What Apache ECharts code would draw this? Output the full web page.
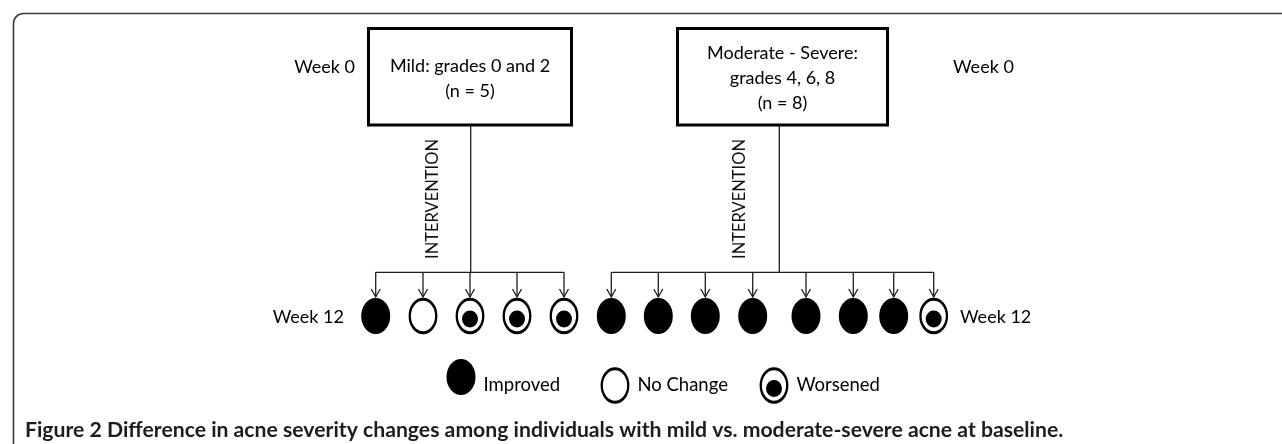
<!DOCTYPE html>
<html><head><meta charset="utf-8">
<script src="https://cdn.jsdelivr.net/npm/echarts@6/dist/echarts.min.js"></script>
<style>html,body{margin:0;padding:0;background:#fff}#c{width:1282px;height:444px}</style>
</head><body><div id="c"></div>
<script>
// ---------- DATA ----------
const groupTitles = ['Mild: grades 0 and 2\n(n = 5)', 'Moderate - Severe:\ngrades 4, 6, 8\n(n = 8)'];
const mildOutcomes = ['Improved', 'No Change', 'Worsened', 'Worsened', 'Worsened'];
const severeOutcomes = ['Improved', 'Improved', 'Improved', 'Improved', 'Improved', 'Improved', 'Improved', 'Worsened'];
const outcomeTypes = ['Improved', 'No Change', 'Worsened'];
const timeLabels = ['Week 0', 'Week 12'];
const stepLabel = 'INTERVENTION';
const caption = 'Figure 2 Difference in acne severity changes among individuals with mild vs. moderate-severe acne at baseline.';

// ---------- LAYOUT (diagram units = canvas px via hidden axes) ----------
const mildX = [375.7, 423, 470, 517, 564];
const severeX = [611.3, 658.3, 705.3, 752.7, 806, 853.3, 893.7, 933.7];
const groupLayout = [
  { box: [368.5, 571.5, 28.5, 125], stem: 470.7, textX: 470, textY: [66, 91], interX: 433, childX: mildX },
  { box: [677.5, 887.5, 28.5, 125], stem: 779.3, textX: 782.5, textY: [53.3, 78.3, 103.3], interX: 740, childX: severeX }
];
const barY = 272.3, tipY = 297, nodeY = 316, interY = 199;
const legendPos = [[461, 377], [615, 385.5], [774, 385.5]];
const legendTextY = 385;

const FONT = 'Lato, "Open Sans", sans-serif';
const INK = '#000';
const LINE = '#1e1e1e';

const outcomeStyle = {
  'Improved': { color: '#000', borderWidth: 0, size: [29, 36] },
  'No Change': { color: '#fff', borderColor: '#000', borderWidth: 2.6, size: [26.5, 33.5] },
  'Worsened': { color: '#fff', borderColor: '#000', borderWidth: 2.6, size: [26.5, 33.5] }
};

function nodeItem(x, y, o) {
  const s = outcomeStyle[o];
  return {
    value: [x, y, outcomeTypes.indexOf(o)],
    symbolSize: s.size,
    itemStyle: { color: s.color, borderColor: s.borderColor || '#000', borderWidth: s.borderWidth, opacity: 1 }
  };
}

const nodes = [];
const inner = [];
mildOutcomes.forEach((o, i) => { nodes.push(nodeItem(mildX[i], nodeY, o)); if (o === 'Worsened') inner.push([mildX[i], nodeY + 3]); });
severeOutcomes.forEach((o, i) => { nodes.push(nodeItem(severeX[i], nodeY, o)); if (o === 'Worsened') inner.push([severeX[i], nodeY + 3]); });

const legendNodes = outcomeTypes.map((o, i) => {
  const it = nodeItem(legendPos[i][0], legendPos[i][1], o);
  it.label = { show: true, position: 'right', distance: 8, formatter: o, offset: [0, legendTextY - legendPos[i][1]],
    color: INK, fontFamily: FONT, fontSize: 18.5 };
  return it;
});
const legendInner = outcomeTypes.map((o, i) => o === 'Worsened' ? [legendPos[i][0], legendPos[i][1] + 3] : null).filter(Boolean);

function txt(api, x, y, text, align, opts) {
  const p = api.coord([x, y]);
  return Object.assign({
    type: 'text', x: p[0], y: p[1],
    style: { text: text, fill: INK, font: '18px ' + FONT, textAlign: align, align: align,
      textVerticalAlign: 'middle', verticalAlign: 'middle' }
  }, opts || {});
}

function renderGroup(params, api) {
  const g = api.value(0);
  const L = groupLayout[g];
  const ch = [];
  const a = api.coord([L.box[0], L.box[2]]), b = api.coord([L.box[1], L.box[3]]);
  const s0 = api.coord([L.stem, L.box[3]]), s1 = api.coord([L.stem, barY]);
  ch.push({ type: 'line', shape: { x1: s0[0], y1: s0[1], x2: s1[0], y2: s1[1] }, style: { stroke: LINE, lineWidth: 1.3 } });
  const xs = L.childX;
  const h0 = api.coord([Math.min.apply(null, xs), barY]), h1 = api.coord([Math.max.apply(null, xs), barY]);
  ch.push({ type: 'line', shape: { x1: h0[0], y1: h0[1], x2: h1[0], y2: h1[1] }, style: { stroke: LINE, lineWidth: 1.3 } });
  xs.forEach(x => {
    const t0 = api.coord([x, barY]), t1 = api.coord([x, tipY]);
    ch.push({ type: 'line', shape: { x1: t0[0], y1: t0[1], x2: t1[0], y2: t1[1] }, style: { stroke: LINE, lineWidth: 1.3 } });
    ch.push({ type: 'polyline', shape: { points: [[t1[0] - 4.5, t1[1] - 8], [t1[0], t1[1]], [t1[0] + 4.5, t1[1] - 8]] },
      style: { stroke: LINE, lineWidth: 1.3, fill: null } });
  });
  ch.push({ type: 'rect', shape: { x: a[0], y: a[1], width: b[0] - a[0], height: b[1] - a[1] },
    style: { fill: '#fff', stroke: '#000', lineWidth: 3 } });
  const lines = groupTitles[g].split('\n');
  lines.forEach((t, k) => ch.push(txt(api, L.textX, L.textY[k], t, 'center')));
  const ip = txt(api, L.interX, interY, stepLabel, 'center', { rotation: Math.PI / 2 });
  ip.style.font = '16.5px ' + FONT;
  ip.style.fill = '#111';
  ch.push(ip);
  return { type: 'group', children: ch };
}

function renderTexts(params, api) {
  const ch = [];
  ch.push(txt(api, 355, 66.7, timeLabels[0], 'right'));
  ch.push(txt(api, 953, 66.7, timeLabels[0], 'left'));
  ch.push(txt(api, 344, 316.7, timeLabels[1], 'right'));
  ch.push(txt(api, 960, 316.7, timeLabels[1], 'left'));
  const c = txt(api, 25, 430, caption, 'left');
  c.style.font = 'bold 21.2px ' + FONT;
  c.style.fill = '#1d1d1b';
  ch.push(c);
  return { type: 'group', children: ch };
}

const chart = echarts.init(document.getElementById('c'), null, { renderer: 'canvas' });
chart.setOption({
  animation: false,
  backgroundColor: '#fff',
  grid: { left: 0, right: 0, top: 0, bottom: 0 },
  xAxis: { type: 'value', min: 0, max: 1282, show: false },
  yAxis: { type: 'value', min: 0, max: 444, inverse: true, show: false },
  graphic: [{
    type: 'rect', left: 11, top: 11, silent: true,
    shape: { width: 1320, height: 460, r: [10, 0, 0, 0] },
    style: { fill: null, stroke: '#3a3a3a', lineWidth: 1.6 }
  }],
  series: [
    { type: 'custom', silent: true, renderItem: renderGroup, data: groupTitles.map((t, i) => [i]), clip: false },
    { type: 'custom', silent: true, renderItem: renderTexts, data: [[0]], clip: false },
    { type: 'scatter', silent: true, symbol: 'circle', data: nodes, z: 3 },
    { type: 'scatter', silent: true, symbol: 'circle', data: inner, symbolSize: [16, 17], itemStyle: { color: '#000', opacity: 1 }, z: 4 },
    { type: 'scatter', silent: true, symbol: 'circle', data: legendNodes, z: 3 },
    { type: 'scatter', silent: true, symbol: 'circle', data: legendInner, symbolSize: [16, 17], itemStyle: { color: '#000', opacity: 1 }, z: 4 }
  ]
});
</script></body></html>
